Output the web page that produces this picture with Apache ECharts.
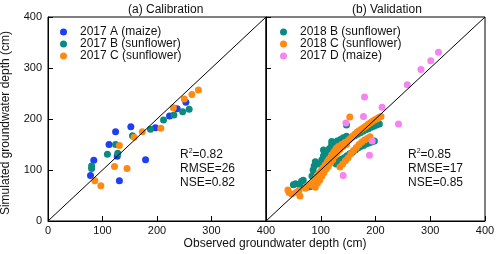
<!DOCTYPE html>
<html><head><meta charset="utf-8">
<script src="https://cdn.jsdelivr.net/npm/echarts@6/dist/echarts.min.js"></script>
<style>html,body{margin:0;padding:0;background:#fff}#c{width:500px;height:254px}</style>
</head><body><div id="c"></div>
<script>
// Axis ticks
const axisTicks = [0, 100, 200, 300, 400];
// Panel titles and labels
const panelTitles = ['(a) Calibration', '(b) Validation'];
const calNames = ['2017 A (maize)', '2017 B (sunflower)', '2017 C (sunflower)'];
const valNames = ['2018 B (sunflower)', '2018 C (sunflower)', '2017 D (maize)'];
const calStats = { r2: '0.82', rmse: '26', nse: '0.82' };
const valStats = { r2: '0.85', rmse: '17', nse: '0.85' };

// Calibration data [observed, simulated]
const cal2017A = [[78,89],[84,119],[112,150],[124,175],[127,127],[131,79],[152,185],[179,120],[197,183],[223,206],[237,220],[253,233]];
const cal2017B = [[80,103],[80,108],[109,131],[124,150],[128,133],[155,167],[188,180],[212,198],[231,208],[247,214],[259,219]];
const cal2017C = [[86,79],[97,69],[122,107],[131,148],[145,103],[158,164],[173,175],[207,182],[230,222],[250,239],[264,248],[276,257]];

// Validation data [observed, simulated]
const val2018B = [[50,71],[54,73],[62,70],[65,78],[68,80],[74,66],[80,67],[84,88],[86,100],[88,108],[90,116],[93,76],[96,112],[99,94],[102,120],[105,128],[105,139],[108,133],[112,136],[116,142],[120,150],[120,156],[125,152],[130,157],[136,160],[141,163],[147,166],[147,188],
  [152,160],[157,164],[162,167],[167,170],[172,173],[177,176],[182,179],[187,181],[192,184],[197,186],[202,188],[207,190],
  [128,112],[133,118],[138,121],[143,124],[148,128],[153,132],[158,135],[163,139],[168,143],[173,146],[178,148],[183,151],[188,153],[193,155],[198,157]];
const val2018C = [[40,61],[42,56],[47,53],[55,56],[62,49],[60,60],[72,64],[80,72],[84,70],[88,80],[90,66],[92,86],[94,74],[96,92],[98,80],[100,98],[102,88],[104,104],[106,95],[108,110],[110,102],[112,116],[114,108],[116,122],[118,114],[120,130],[122,120],[124,136],[126,128],[128,142],[130,134],[132,146],[135,140],[138,150],[141,146],[144,154],[147,150],[150,158],[153,204],[154,162],[158,166],[162,170],[166,174],[170,177],[174,180],[178,183],[182,186],[186,189],[190,192],[194,195],[198,198],[202,200],[206,203],[210,205],
  [135,106],[140,112],[145,118],[150,124],[155,132],[160,138],[165,144],[170,150],[175,155],[180,159],[185,162],[190,165]];
const val2017D = [[141,89],[146,192],[178,205],[180,243],[189,129],[194,157],[212,223],[242,190],[258,267],[283,297],[301,314],[315,331]];

const oneToOne = [[0,0],[400,400]];

const FONT = "'Liberation Sans', Arial, sans-serif";
const C_BLUE = '#1f3ff5', C_TEAL = '#0a8a80', C_ORANGE = '#ff8a12', C_PINK = '#f583f0';

function xAx(i) {
  return {
    gridIndex: i, type: 'value', min: axisTicks[0], max: axisTicks[axisTicks.length-1], interval: 100,
    axisLine: { lineStyle: { color: '#000', width: 1 } },
    axisTick: { inside: true, length: 5, lineStyle: { color: '#000' } },
    splitLine: { show: false },
    axisLabel: { color: '#111', fontSize: 11, fontFamily: FONT, margin: 4, showMinLabel: i === 0 }
  };
}
function yAx(i) {
  return {
    gridIndex: i, type: 'value', min: axisTicks[0], max: axisTicks[axisTicks.length-1], interval: 100,
    axisLine: { lineStyle: { color: '#000', width: 1 } },
    axisTick: { inside: true, length: 5, lineStyle: { color: '#000' } },
    splitLine: { show: false },
    axisLabel: { show: i === 0, color: '#111', fontSize: 11, fontFamily: FONT, margin: 6 }
  };
}
function sc(name, data, color, i) {
  return { name, type: 'scatter', data, xAxisIndex: i, yAxisIndex: i, symbolSize: 7,
    itemStyle: { color, opacity: 1 }, z: 2, silent: true };
}
function diag(i) {
  return { type: 'line', data: oneToOne, xAxisIndex: i, yAxisIndex: i, symbol: 'none',
    lineStyle: { color: '#000', width: 1 }, z: 5, silent: true };
}
function statText(x, s) {
  const st = { fontSize: 12, fontFamily: FONT, fill: '#111' };
  return [
    { type: 'text', left: x, top: 148, style: Object.assign({ text: 'R{s|2}=' + s.r2, rich: { s: { fontSize: 7, fontFamily: FONT, verticalAlign: 'top', padding: [0,0,6,0] } } }, st) },
    { type: 'text', left: x, top: 163, style: Object.assign({ text: 'RMSE=' + s.rmse }, st) },
    { type: 'text', left: x, top: 177, style: Object.assign({ text: 'NSE=' + s.nse }, st) }
  ];
}
function legend(left, names) {
  return {
    data: names, left, top: 21, orient: 'vertical', itemGap: 0, itemWidth: 7, itemHeight: 7,
    icon: 'circle', selectedMode: false,
    textStyle: { fontSize: 12, fontFamily: FONT, color: '#111', lineHeight: 12, padding: [0,0,0,8] }
  };
}

const chart = echarts.init(document.getElementById('c'), null, { renderer: 'canvas' });
chart.setOption({
  animation: false,
  backgroundColor: '#fff',
  textStyle: { fontFamily: FONT },
  grid: [
    { left: 48, top: 17, width: 218, height: 204, show: true, borderColor: '#000', borderWidth: 1 },
    { left: 266, top: 17, width: 219, height: 204, show: true, borderColor: '#000', borderWidth: 1 }
  ],
  xAxis: [xAx(0), xAx(1)],
  yAxis: [yAx(0), yAx(1)],
  legend: [legend(55, calNames), legend(275, valNames)],
  series: [
    sc(calNames[0], cal2017A, C_BLUE, 0),
    sc(calNames[1], cal2017B, C_TEAL, 0),
    sc(calNames[2], cal2017C, C_ORANGE, 0),
    diag(0),
    sc(valNames[0], val2018B, C_TEAL, 1),
    sc(valNames[1], val2018C, C_ORANGE, 1),
    sc(valNames[2], val2017D, C_PINK, 1),
    diag(1)
  ],
  graphic: [
    { type: 'text', left: 128, top: 4, style: { text: panelTitles[0], fontSize: 12, fontFamily: FONT, fill: '#111' } },
    { type: 'text', left: 352, top: 4, style: { text: panelTitles[1], fontSize: 12, fontFamily: FONT, fill: '#111' } },
    { type: 'text', x: 275, y: 244, style: { text: 'Observed groundwater depth (cm)', fontSize: 12, fontFamily: FONT, fill: '#111', textAlign: 'center', textVerticalAlign: 'middle' } },
    { type: 'text', x: 6, y: 123, rotation: Math.PI / 2, style: { text: 'Simulated groundwater depth (cm)', fontSize: 12, fontFamily: FONT, fill: '#111', textAlign: 'center', textVerticalAlign: 'middle' } }
  ].concat(statText(180, calStats), statText(408, valStats))
});
</script></body></html>
